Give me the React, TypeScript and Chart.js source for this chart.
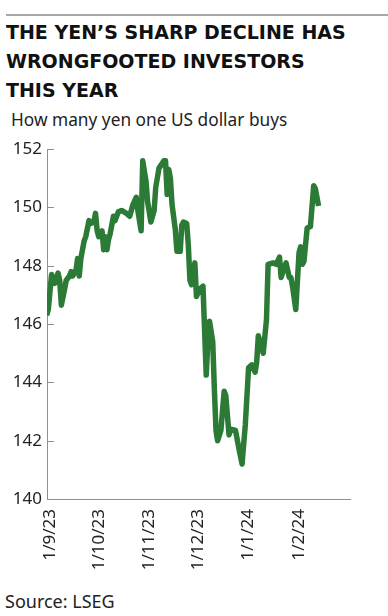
import React, { useEffect, useRef } from "react";
import { Chart, registerables } from "chart.js";

Chart.register(...registerables);

// ---- data (USD/JPY) ----
const dates: string[] = [
  "2023-08-30", "2023-08-31", "2023-09-02", "2023-09-04", "2023-09-06", "2023-09-07",
  "2023-09-08", "2023-09-10", "2023-09-11", "2023-09-13", "2023-09-14", "2023-09-15",
  "2023-09-17", "2023-09-18", "2023-09-19", "2023-09-20", "2023-09-22", "2023-09-23",
  "2023-09-25", "2023-09-26", "2023-09-28", "2023-09-29", "2023-09-30", "2023-10-01",
  "2023-10-03", "2023-10-04", "2023-10-05", "2023-10-06", "2023-10-07", "2023-10-08",
  "2023-10-10", "2023-10-11", "2023-10-13", "2023-10-15", "2023-10-18", "2023-10-20",
  "2023-10-22", "2023-10-24", "2023-10-25", "2023-10-27", "2023-10-28", "2023-10-30",
  "2023-10-31", "2023-11-02", "2023-11-04", "2023-11-05", "2023-11-07", "2023-11-10",
  "2023-11-11", "2023-11-12", "2023-11-13", "2023-11-14", "2023-11-15", "2023-11-17",
  "2023-11-18", "2023-11-20", "2023-11-21", "2023-11-22", "2023-11-24", "2023-11-25",
  "2023-11-26", "2023-11-27", "2023-11-29", "2023-11-30", "2023-12-02", "2023-12-04",
  "2023-12-06", "2023-12-07", "2023-12-08", "2023-12-10", "2023-12-11", "2023-12-12",
  "2023-12-13", "2023-12-15", "2023-12-17", "2023-12-18", "2023-12-20", "2023-12-21",
  "2023-12-24", "2023-12-26", "2023-12-28", "2023-12-30", "2024-01-01", "2024-01-03",
  "2024-01-05", "2024-01-06", "2024-01-07", "2024-01-09", "2024-01-10", "2024-01-12",
  "2024-01-13", "2024-01-16", "2024-01-18", "2024-01-20", "2024-01-21", "2024-01-23",
  "2024-01-24", "2024-01-26", "2024-01-27", "2024-01-28", "2024-01-30", "2024-02-01",
  "2024-02-02", "2024-02-03", "2024-02-04", "2024-02-06", "2024-02-08", "2024-02-10",
  "2024-02-11", "2024-02-13",
];

const yen: number[] = [
  146.3, 146.5, 147.7, 147.4, 147.75, 147.5,
  146.65, 147.2, 147.5, 147.65, 147.8, 147.65,
  147.85, 148.25, 147.65, 148.25, 148.85, 149.0,
  149.55, 149.45, 149.5, 149.8, 149.2, 149.0,
  149.2, 148.55, 149.0, 148.55, 148.9, 149.1,
  149.7, 149.55, 149.85, 149.9, 149.8, 149.7,
  150.1, 150.35, 149.9, 149.2, 151.6, 150.9,
  150.2, 149.5, 149.9, 150.7, 151.35, 151.6,
  151.6, 150.45, 151.3, 151.0, 150.1, 149.25,
  148.5, 148.5, 149.4, 149.5, 149.45, 148.7,
  147.5, 147.35, 148.1, 146.95, 147.2, 147.3,
  144.25, 145.4, 146.1, 145.4, 143.75, 142.35,
  142.0, 142.35, 143.7, 143.55, 142.2, 142.4,
  142.35, 141.75, 141.2, 142.55, 144.5, 144.6,
  144.35, 144.7, 145.6, 145.2, 145.0, 146.15,
  148.05, 148.1, 148.05, 148.3, 147.6, 147.95,
  148.1, 147.6, 147.6, 147.3, 146.5, 148.45,
  148.65, 148.05, 148.15, 149.3, 149.35, 150.75,
  150.65, 150.05,
];

const tickDates: string[] = ["2023-09-01", "2023-10-01", "2023-11-01", "2023-12-01", "2024-01-01", "2024-02-01"];
const tickLabels: string[] = ["1/9/23", "1/10/23", "1/11/23", "1/12/23", "1/1/24", "1/2/24"];
const yTicks: number[] = [140, 142, 144, 146, 148, 150, 152];
const Y_MIN = 140;
const Y_MAX = 152;
// x-axis range in days from 1 Sep 2023
const X_MIN = -1.8;
const X_MAX = 184.3;

const ORIGIN = Date.parse("2023-09-01T00:00:00Z");
const dayOf = (s: string) => (Date.parse(s + "T00:00:00Z") - ORIGIN) / 86400000;

const GREEN = "#2b7b36";
const AXIS = "#8f8f8f";
const FONT = "'Noto Sans', 'DejaVu Sans', sans-serif";
const TITLE_FONT = "'DejaVu Sans', 'Noto Sans', sans-serif";
const TEXT = "#222";

const innerTicks = {
  id: "innerTicks",
  beforeDatasetsDraw(chart: any) {
    const y = chart.scales.y;
    const left = chart.chartArea.left;
    const ctx = chart.ctx;
    ctx.save();
    ctx.strokeStyle = AXIS;
    ctx.lineWidth = 1;
    yTicks.forEach((v) => {
      const py = Math.round(y.getPixelForValue(v)) + 0.5;
      ctx.beginPath();
      ctx.moveTo(left, py);
      ctx.lineTo(left + 7, py);
      ctx.stroke();
    });
    ctx.restore();
  },
};

export default function App() {
  const ref = useRef<HTMLCanvasElement | null>(null);

  useEffect(() => {
    document.body.style.margin = "0";
    if (!ref.current) return;
    const chart = new Chart(ref.current, {
      type: "line",
      data: {
        datasets: [
          {
            data: dates.map((d, i) => ({ x: dayOf(d), y: yen[i] })),
            borderColor: GREEN,
            borderWidth: 5.5,
            pointRadius: 0,
            tension: 0,
            borderJoinStyle: "round",
            borderCapStyle: "butt",
            fill: false,
          },
        ],
      },
      options: {
        animation: false,
        responsive: false,
        maintainAspectRatio: false,
        layout: { padding: { top: 11, right: 38, left: 0, bottom: 0 } },
        plugins: { legend: { display: false }, tooltip: { enabled: false } },
        scales: {
          x: {
            type: "linear",
            min: X_MIN,
            max: X_MAX,
            afterBuildTicks: (s: any) => {
              s.ticks = tickDates.map((d) => ({ value: dayOf(d) }));
            },
            afterFit: (s: any) => {
              s.height = 86;
            },
            ticks: {
              autoSkip: false,
              maxRotation: 90,
              minRotation: 90,
              padding: 10,
              color: TEXT,
              font: { family: FONT, size: 17 },
              callback: (_v: any, i: number) => tickLabels[i],
            },
            grid: { display: false, drawTicks: false },
            border: { display: true, color: AXIS, width: 1 },
          },
          y: {
            min: Y_MIN,
            max: Y_MAX,
            afterBuildTicks: (s: any) => {
              s.ticks = yTicks.map((v) => ({ value: v }));
            },
            afterFit: (s: any) => {
              s.width = 47;
            },
            ticks: {
              padding: 5,
              color: TEXT,
              font: { family: FONT, size: 17 },
              callback: (v: any) => String(v),
            },
            grid: { display: false, drawTicks: false },
            border: { display: true, color: AXIS, width: 1 },
          },
        },
      },
      plugins: [innerTicks],
    } as any);
    return () => chart.destroy();
  }, []);

  return (
    <div style={{ position: "absolute", left: 0, top: 0, width: 388, height: 616, background: "#fff", overflow: "hidden" }}>
      <div style={{ position: "absolute", left: 6, top: 14, width: 382, height: 2, background: "#a8a8a8" }} />
      <div
        style={{
          position: "absolute",
          left: 6,
          top: 18.3,
          fontFamily: TITLE_FONT,
          fontWeight: 700,
          fontSize: 19,
          lineHeight: "28.8px",
          color: "#111",
          whiteSpace: "nowrap",
        }}
      >
        THE YEN’S SHARP DECLINE HAS
        <br />
        WRONGFOOTED INVESTORS
        <br />
        THIS YEAR
      </div>
      <div
        style={{
          position: "absolute",
          left: 11,
          top: 108.4,
          fontFamily: FONT,
          fontSize: 17.3,
          lineHeight: "24px",
          color: TEXT,
          whiteSpace: "nowrap",
        }}
      >
        How many yen one US dollar buys
      </div>
      <canvas ref={ref} width={388} height={451} style={{ position: "absolute", left: 0, top: 134, width: 388, height: 451 }} />
      <div
        style={{
          position: "absolute",
          left: 5,
          top: 589,
          fontFamily: FONT,
          fontSize: 18,
          lineHeight: "24px",
          color: TEXT,
          whiteSpace: "nowrap",
        }}
      >
        Source: LSEG
      </div>
    </div>
  );
}
